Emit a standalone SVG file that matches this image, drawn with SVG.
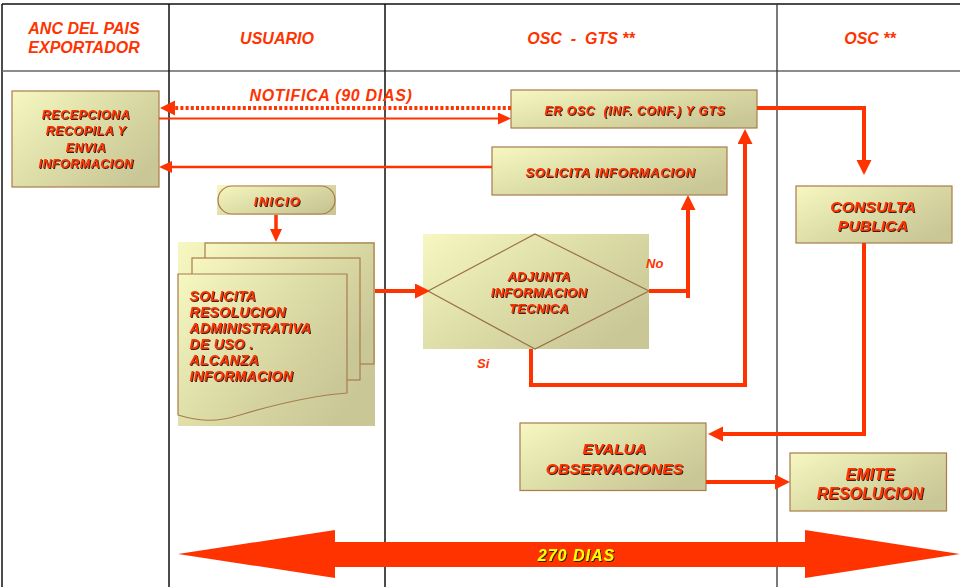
<svg xmlns="http://www.w3.org/2000/svg" width="960" height="587" viewBox="0 0 960 587">
<defs>
<linearGradient id="g" x1="0" y1="0" x2="1" y2="0.7">
<stop offset="0" stop-color="#f7f7c2"/>
<stop offset="0.5" stop-color="#dedea8"/>
<stop offset="1" stop-color="#c9c796"/>
</linearGradient>
<filter id="sh" x="-10%" y="-30%" width="120%" height="160%">
<feDropShadow dx="1" dy="1" stdDeviation="0.3" flood-color="#2a1808" flood-opacity="0.95"/>
</filter>
<marker id="ab" markerWidth="16" markerHeight="16" refX="4" refY="7.5" orient="auto" markerUnits="userSpaceOnUse">
<path d="M0,0 L15,7.5 L0,15 z" fill="#ff3300"/>
</marker>
<marker id="at" markerWidth="14" markerHeight="14" refX="3" refY="6" orient="auto" markerUnits="userSpaceOnUse">
<path d="M0,0 L13,6 L0,12 z" fill="#ff3300"/>
</marker>
<style>
text{font-family:"Liberation Sans",Arial,sans-serif;font-weight:bold;font-style:italic;fill:#ff3300;}
.hd{font-size:16px;text-anchor:middle;}
.bx{text-anchor:middle;filter:url(#sh);}
.dt{text-anchor:start;filter:url(#sh);font-size:14px;letter-spacing:0.3px;}
.box{fill:url(#g);stroke:#a87c4c;stroke-width:1.2;}
.bg{fill:url(#g);}
.c{fill:none;stroke:#ff3300;stroke-linejoin:miter;}
.grid{stroke:#111;stroke-width:1.5;fill:none;}
.pre{white-space:pre;}
</style>
</defs>
<rect width="960" height="587" fill="#ffffff"/>
<g id="grid">
<line class="grid" x1="2" y1="4" x2="960" y2="4"/>
<line class="grid" x1="2" y1="4" x2="2" y2="587"/>
<line x1="2" y1="71" x2="960" y2="71" stroke="#666" stroke-width="1.5"/>
<line class="grid" x1="169" y1="4" x2="169" y2="587"/>
<line class="grid" x1="385" y1="4" x2="385" y2="587"/>
<line x1="777" y1="4" x2="777" y2="587" stroke="#333" stroke-width="1.3"/>
</g>
<g id="headers">
<text class="hd" x="84" y="34">ANC DEL PAIS</text>
<text class="hd" x="84" y="53">EXPORTADOR</text>
<text class="hd" x="277" y="44">USUARIO</text>
<text class="hd pre" x="581" y="44">OSC  -  GTS **</text>
<text class="hd" x="870" y="44">OSC **</text>
</g>
<g id="recepciona">
<rect class="box" x="12" y="91" width="147" height="96"/>
<text class="bx" x="86" y="119" font-size="12.5" letter-spacing="0.5">RECEPCIONA</text>
<text class="bx" x="86" y="135" font-size="12.5" letter-spacing="0.5">RECOPILA Y</text>
<text class="bx" x="86" y="151.5" font-size="12.5" letter-spacing="0.5">ENVIA</text>
<text class="bx" x="86" y="168" font-size="12.5" letter-spacing="0.5">INFORMACION</text>
</g>
<g id="er-osc">
<rect class="box" x="511" y="90" width="246" height="38"/>
<text class="bx pre" x="635" y="115" font-size="12" letter-spacing="0.8">ER OSC  (INF. CONF.) Y GTS</text>
</g>
<g id="solicita-informacion">
<rect class="box" x="492" y="147" width="235" height="48"/>
<text class="bx" x="610.5" y="177" font-size="13" letter-spacing="0.7">SOLICITA INFORMACION</text>
</g>
<g id="inicio">
<rect class="bg" x="217" y="185" width="119" height="30"/>
<rect x="218" y="186" width="117" height="28" rx="14" ry="14" fill="none" stroke="#a87c4c" stroke-width="1.2"/>
<text class="bx" x="277.5" y="205.5" font-size="13" letter-spacing="1.3">INICIO</text>
</g>
<g id="solicita-resolucion">
<rect class="bg" x="178" y="242" width="197" height="184"/>
<rect class="box" x="205" y="243" width="169" height="121"/>
<rect class="box" x="192" y="258" width="168" height="122"/>
<path class="box" d="M178,274 H347 V393 C310,396 270,406 240,415 C215,423 198,421 178,415 Z"/>
<text class="dt" x="189.5" y="300.5">SOLICITA</text>
<text class="dt" x="189.5" y="316.5">RESOLUCION</text>
<text class="dt" x="189.5" y="332.5">ADMINISTRATIVA</text>
<text class="dt pre" x="189.5" y="348.5">DE USO .</text>
<text class="dt" x="189.5" y="364.5">ALCANZA</text>
<text class="dt" x="189.5" y="380.5">INFORMACION</text>
</g>
<g id="adjunta">
<rect class="bg" x="423" y="234" width="226" height="115"/>
<polygon points="535,234 649,291 535,349 428,291" fill="none" stroke="#9a7048" stroke-width="1.2"/>
<text class="bx" x="539" y="281" font-size="13" letter-spacing="0.3">ADJUNTA</text>
<text class="bx" x="539" y="296.7" font-size="13" letter-spacing="0.3">INFORMACION</text>
<text class="bx" x="539" y="312.7" font-size="13" letter-spacing="0.3">TECNICA</text>
</g>
<g id="consulta-publica">
<rect class="box" x="796" y="186" width="156" height="57"/>
<text class="bx" x="873" y="211.7" font-size="15.5" letter-spacing="0.2">CONSULTA</text>
<text class="bx" x="873" y="230.7" font-size="15.5" letter-spacing="0.2">PUBLICA</text>
</g>
<g id="evalua">
<rect class="box" x="520" y="423" width="186" height="67.5"/>
<text class="bx" x="614.5" y="454.3" font-size="15.5" letter-spacing="0.2">EVALUA</text>
<text class="bx" x="614.5" y="474" font-size="15.5" letter-spacing="0.2">OBSERVACIONES</text>
</g>
<g id="emite">
<rect class="box" x="790" y="453" width="156.5" height="58"/>
<text class="bx" x="870" y="480" font-size="16">EMITE</text>
<text class="bx" x="870" y="499.3" font-size="16">RESOLUCION</text>
</g>
<g id="connectors">
<path class="c" d="M511,108 H171" stroke-width="4" stroke-dasharray="3,2.2" marker-end="url(#ab)"/>
<path class="c" d="M159,118.5 H501" stroke-width="2" marker-end="url(#at)"/>
<path class="c" d="M492,167 H169" stroke-width="2.5" marker-end="url(#at)"/>
<path class="c" d="M757,108 H864 V164" stroke-width="4" marker-end="url(#ab)"/>
<path class="c" d="M864,243 V434 H719" stroke-width="4" marker-end="url(#ab)"/>
<path class="c" d="M276,215 V232" stroke-width="3.5" marker-end="url(#at)"/>
<path class="c" d="M375,291 H419" stroke-width="4" marker-end="url(#ab)"/>
<path class="c" d="M649,291 H688 M688,298 V206" stroke-width="4" marker-end="url(#ab)"/>
<path class="c" d="M531,349 V385 H745 V140" stroke-width="4" marker-end="url(#ab)"/>
<path class="c" d="M706,482 H779" stroke-width="4" marker-end="url(#ab)"/>
<text x="331" y="101" font-size="16" text-anchor="middle" letter-spacing="0.7">NOTIFICA (90 DIAS)</text>
<text x="646" y="268" font-size="13">No</text>
<text x="477" y="368" font-size="13">Si</text>
</g>
<g id="plazo">
<polygon points="178,554 335,530 335,542 805,542 805,530 960,554 805,578 805,567 335,567 335,578" fill="#ff3300"/>
<text class="bx" x="576.5" y="560.7" font-size="16" letter-spacing="1" style="fill:#ffff00">270 DIAS</text>
</g>
</svg>
